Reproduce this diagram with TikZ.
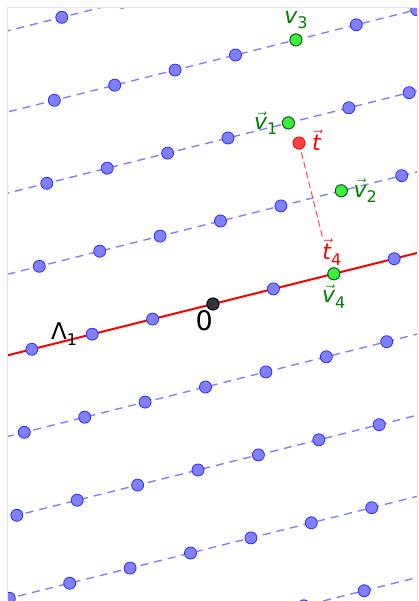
\documentclass[tikz,border=0pt]{standalone}
\usepackage{fontspec}
\setmainfont{DejaVu Sans}
\usepackage{tkz-euclide}
\usetikzlibrary{calc,positioning}

\definecolor{rowblue}{RGB}{128,128,255}
\definecolor{dotblue}{RGB}{40,40,255}
\definecolor{vecgreen}{RGB}{0,128,0}
\definecolor{dotgreen}{RGB}{60,240,60}
\definecolor{framegray}{RGB}{228,228,242}

\newcommand{\veclab}[2]{$\vec{\mbox{\itshape #1}}$\raisebox{-0.45ex}{\fontsize{16}{16}\selectfont #2}}

\tikzset{
  rowline/.style={color=rowblue,line width=1.4pt,dash pattern=on 8pt off 6pt},
  latdot/.style={fill=rowblue,draw=dotblue,line width=0.8pt},
  vecdot/.style={fill=dotgreen,draw=black!60!green,line width=0.9pt},
  veclabel/.style={text=vecgreen,inner sep=1pt,font=\fontsize{22}{22}\selectfont},
}

\begin{document}
\begin{tikzpicture}[x=1pt,y=1pt]
\useasboundingbox (-213,-297) rectangle (205,304);

\tkzDefPoints{0/0/O,60.4/15.1/B1,7.5/83/B2,86/161/T}
\tkzDefPoints{75.4/181.1/V1,128.3/113.2/V2,82.9/264.1/V3,120.8/30.2/V4}

\begin{scope}
\clip (-205,-297) rectangle (204,296);

% rows of the lattice
\foreach \j in {-4,-3,-2,-1,1,2,3,4}{
  \coordinate (L\j) at ($\j*(B2)-6*(B1)$);
  \coordinate (R\j) at ($\j*(B2)+6*(B1)$);
  \draw[rowline] (L\j) -- (R\j);
}

% Lambda_1
\tkzDrawLine[color=red,line width=2pt,add=5 and 5](O,B1)

\foreach \i in {-5,...,5}
  \foreach \j in {-4,...,4}
    \filldraw[latdot] ($\i*(B1)+\j*(B2)$) circle (6);

% t and its projection
\coordinate (T4) at ($(O)!(T)!(B1)$);
\tkzDrawSegment[color=red!70,line width=1pt,dash pattern=on 6pt off 4pt](T,T4)

\foreach \p in {V1,V2,V3,V4}
  \filldraw[vecdot] (\p) circle (6);
\filldraw[fill=red!75,draw=red,line width=0.9pt] (T) circle (6);
\filldraw[fill=black!80,draw=black,line width=0.9pt] (O) circle (6);

\node[veclabel,left=10pt of V1] (lv1) {\veclab{v}{1}};
\node[veclabel,right=11pt of V2] (lv2) {\veclab{v}{2}};
\node[veclabel,above=10pt of V3] (lv3) {\veclab{v}{3}};
\node[veclabel,below=10pt of V4] (lv4) {\veclab{v}{4}};
\node[veclabel,text=red,right=12pt of T] (lt) {\veclab{t}{}};
\node[veclabel,text=red,fill=white,above=8pt of T4] (lt4) {\veclab{t}{4}};

\node[anchor=base east,inner sep=0pt,font=\fontsize{27}{27}\selectfont] (l0) at (0,-27) {0};
\node[anchor=base west,inner sep=0pt,font=\fontsize{23}{23}\selectfont] (llam) at (-162,-36)
  {Λ\raisebox{-0.45ex}{\fontsize{16}{16}\selectfont 1}};
\end{scope}

\draw[framegray,line width=1pt] (-205,-297) -- (-205,296) -- (204,296) -- (204,-297);
\end{tikzpicture}
\end{document}
